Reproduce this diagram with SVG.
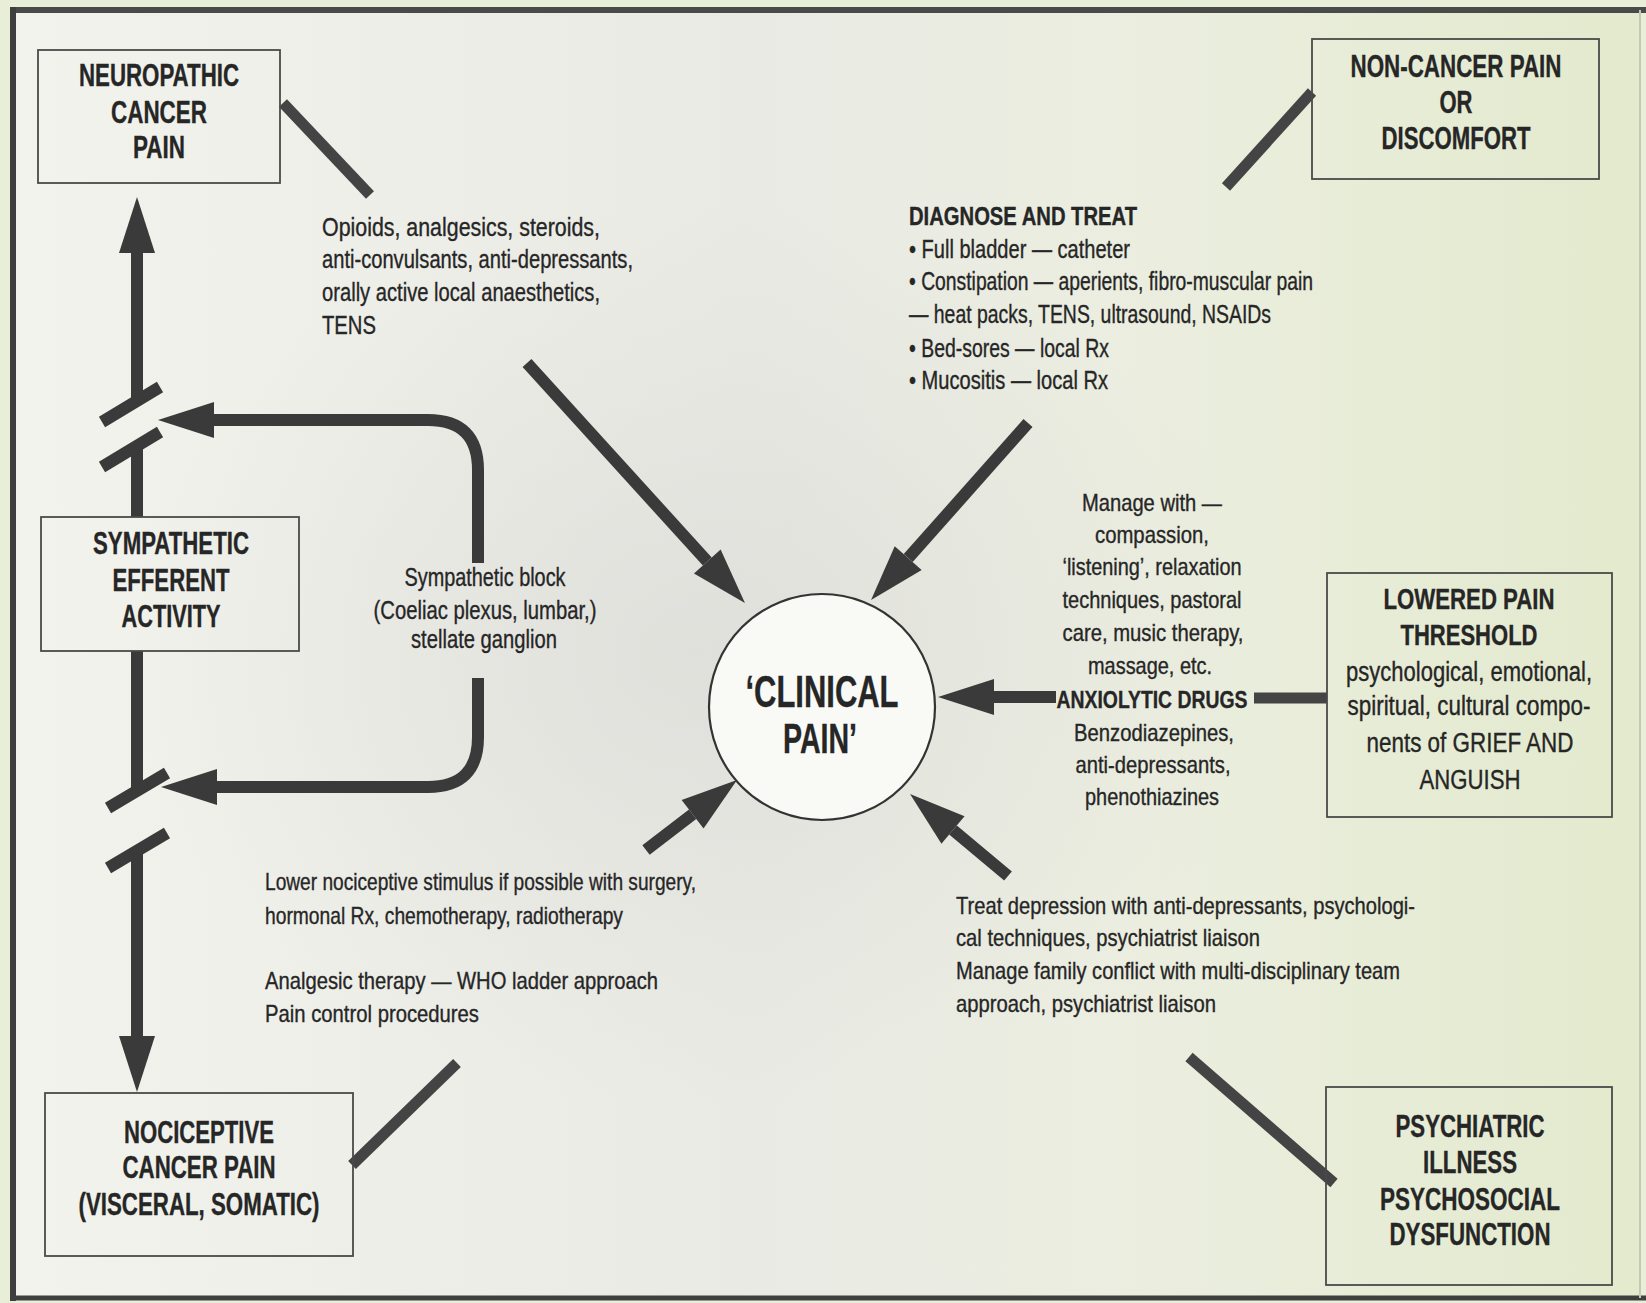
<svg xmlns="http://www.w3.org/2000/svg" width="1646" height="1303" viewBox="0 0 1646 1303">
<defs>
<linearGradient id="bg" x1="0" y1="0" x2="1" y2="0">
<stop offset="0" stop-color="#f2f3ec"/>
<stop offset="0.45" stop-color="#eaeae5"/>
<stop offset="0.7" stop-color="#ebeedf"/>
<stop offset="1" stop-color="#e3eacd"/>
</linearGradient>
<radialGradient id="mid" cx="0.42" cy="0.5" r="0.35">
<stop offset="0" stop-color="#d8d8d4" stop-opacity="0.6"/>
<stop offset="1" stop-color="#dcdcd8" stop-opacity="0"/>
</radialGradient>
<marker id="ah" markerUnits="userSpaceOnUse" markerWidth="58" markerHeight="38" refX="0" refY="18" orient="auto" overflow="visible">
<path d="M0,0 L56,18 L0,36 Z" fill="#3a3a3a"/>
</marker>
</defs>
<style>
.box{fill:none;stroke:#4a4a4a;stroke-width:1.8}
.t{font-family:"Liberation Sans",Arial,sans-serif;fill:#262626;stroke:#262626;stroke-width:0.35px}
.b{font-weight:bold}
.title{font-size:31px;font-weight:bold;text-anchor:middle}
.c{text-anchor:middle}
.body{font-size:25px}
.con{stroke:#3a3a3a;stroke-width:12;fill:none;stroke-linecap:butt}
.stub{stroke:#444;stroke-width:11;fill:none;stroke-linecap:butt}
</style>
<rect x="0" y="0" width="1646" height="1303" fill="#e8eed8"/>
<rect x="13" y="10" width="1627" height="1288" fill="url(#bg)"/>
<rect x="13" y="10" width="1627" height="1288" fill="url(#mid)"/>
<g id="frame">
<line x1="10" y1="10" x2="1646" y2="10" stroke="#4a4a4a" stroke-width="6"/>
<line x1="10" y1="1298" x2="1646" y2="1298" stroke="#3f3f3f" stroke-width="5"/>
<line x1="13" y1="7" x2="13" y2="1301" stroke="#3f3f3f" stroke-width="6"/>
<line x1="1640" y1="10" x2="1640" y2="1298" stroke="#c4c9b2" stroke-width="2"/>
</g>

<g id="connectors">
<line class="con" x1="137" y1="401" x2="137" y2="253" marker-end="url(#ah)"/>
<line class="con" x1="137" y1="446" x2="137" y2="517"/>
<line class="con" x1="137" y1="651" x2="137" y2="790"/>
<line class="con" x1="137" y1="850" x2="137" y2="1036" marker-end="url(#ah)"/>
<line class="con" x1="102" y1="422" x2="160" y2="387"/>
<line class="con" x1="102" y1="467" x2="160" y2="432"/>
<line class="con" x1="108" y1="808" x2="167" y2="773"/>
<line class="con" x1="108" y1="868" x2="167" y2="833"/>
<path class="con" d="M478,563 L478,470 Q478,420 428,420 L214,420" marker-end="url(#ah)"/>
<path class="con" d="M478,678 L478,737 Q478,787 428,787 L217,787" marker-end="url(#ah)"/>
<line class="con" x1="527" y1="363" x2="707.3" y2="561.5" marker-end="url(#ah)"/>
<line class="con" x1="1028" y1="423" x2="908.2" y2="558.1" marker-end="url(#ah)"/>
<line class="con" x1="1056" y1="697" x2="994" y2="697" marker-end="url(#ah)"/>
<line class="con" x1="646" y1="850" x2="692.6" y2="814.2" marker-end="url(#ah)"/>
<line class="con" x1="1008" y1="876" x2="953" y2="830" marker-end="url(#ah)"/>
<line class="stub" x1="283" y1="103" x2="370" y2="195"/>
<line class="stub" x1="1312" y1="92" x2="1226" y2="187"/>
<line class="stub" x1="1254" y1="698" x2="1327" y2="698" stroke="#666"/>
<line class="stub" x1="352" y1="1165" x2="457" y2="1063"/>
<line class="stub" x1="1189" y1="1057" x2="1334" y2="1183"/>
</g>

<g id="node-neuropathic">
<rect class="box" x="38" y="50" width="242" height="133"/>
<text class="t title" x="159" y="86" textLength="160" lengthAdjust="spacingAndGlyphs">NEUROPATHIC</text>
<text class="t title" x="159" y="123" textLength="96" lengthAdjust="spacingAndGlyphs">CANCER</text>
<text class="t title" x="159" y="158" textLength="52" lengthAdjust="spacingAndGlyphs">PAIN</text>
</g>

<g id="node-noncancer">
<rect class="box" x="1312" y="39" width="287" height="140"/>
<text class="t title" x="1456" y="77" textLength="211" lengthAdjust="spacingAndGlyphs">NON-CANCER PAIN</text>
<text class="t title" x="1456" y="113" textLength="33" lengthAdjust="spacingAndGlyphs">OR</text>
<text class="t title" x="1456" y="149" textLength="149" lengthAdjust="spacingAndGlyphs">DISCOMFORT</text>
</g>

<g id="node-sympathetic">
<rect class="box" x="41" y="517" width="258" height="134"/>
<text class="t title" x="171" y="554" textLength="156" lengthAdjust="spacingAndGlyphs">SYMPATHETIC</text>
<text class="t title" x="171" y="591" textLength="117" lengthAdjust="spacingAndGlyphs">EFFERENT</text>
<text class="t title" x="171" y="627" textLength="99" lengthAdjust="spacingAndGlyphs">ACTIVITY</text>
</g>

<g id="node-lowered">
<rect class="box" x="1327" y="573" width="285" height="244"/>
<text class="t b c" style="font-size:29px" x="1469" y="609" textLength="171" lengthAdjust="spacingAndGlyphs">LOWERED PAIN</text>
<text class="t b c" style="font-size:29px" x="1469" y="645" textLength="137" lengthAdjust="spacingAndGlyphs">THRESHOLD</text>
<text class="t c" style="font-size:27px" x="1469" y="681" textLength="246" lengthAdjust="spacingAndGlyphs">psychological, emotional,</text>
<text class="t c" style="font-size:27px" x="1469" y="715" textLength="243" lengthAdjust="spacingAndGlyphs">spiritual, cultural compo-</text>
<text class="t c" style="font-size:27px" x="1470" y="752" textLength="207" lengthAdjust="spacingAndGlyphs">nents of GRIEF AND</text>
<text class="t c" style="font-size:27px" x="1470" y="789" textLength="101" lengthAdjust="spacingAndGlyphs">ANGUISH</text>
</g>

<g id="node-nociceptive">
<rect class="box" x="45" y="1093" width="308" height="163"/>
<text class="t title" x="199" y="1143" textLength="150" lengthAdjust="spacingAndGlyphs">NOCICEPTIVE</text>
<text class="t title" x="199" y="1178" textLength="153" lengthAdjust="spacingAndGlyphs">CANCER PAIN</text>
<text class="t title" x="199" y="1215" textLength="241" lengthAdjust="spacingAndGlyphs">(VISCERAL, SOMATIC)</text>
</g>

<g id="node-psychiatric">
<rect class="box" x="1326" y="1087" width="286" height="198"/>
<text class="t title" x="1470" y="1137" textLength="149" lengthAdjust="spacingAndGlyphs">PSYCHIATRIC</text>
<text class="t title" x="1470" y="1173" textLength="94" lengthAdjust="spacingAndGlyphs">ILLNESS</text>
<text class="t title" x="1470" y="1210" textLength="180" lengthAdjust="spacingAndGlyphs">PSYCHOSOCIAL</text>
<text class="t title" x="1470" y="1245" textLength="161" lengthAdjust="spacingAndGlyphs">DYSFUNCTION</text>
</g>

<g id="node-clinical">
<circle cx="822" cy="707" r="113" fill="#f9f9f6" stroke="#333" stroke-width="2.2"/>
<text class="t b c" style="font-size:44px" x="822" y="707" textLength="153" lengthAdjust="spacingAndGlyphs">‘CLINICAL</text>
<text class="t b c" style="font-size:42px" x="820" y="753" textLength="74" lengthAdjust="spacingAndGlyphs">PAIN’</text>
</g>

<g id="label-opioids" class="t" style="font-size:26px">
<text x="322" y="236" textLength="278" lengthAdjust="spacingAndGlyphs">Opioids, analgesics, steroids,</text>
<text x="322" y="268" textLength="311" lengthAdjust="spacingAndGlyphs">anti-convulsants, anti-depressants,</text>
<text x="322" y="301" textLength="278" lengthAdjust="spacingAndGlyphs">orally active local anaesthetics,</text>
<text x="322" y="334" textLength="54" lengthAdjust="spacingAndGlyphs">TENS</text>
</g>

<g id="label-diagnose" class="t body">
<text class="b" x="909" y="225" textLength="228" lengthAdjust="spacingAndGlyphs">DIAGNOSE AND TREAT</text>
<text x="909" y="258" textLength="221" lengthAdjust="spacingAndGlyphs">• Full bladder — catheter</text>
<text x="909" y="290" textLength="404" lengthAdjust="spacingAndGlyphs">• Constipation — aperients, fibro-muscular pain</text>
<text x="909" y="323" textLength="362" lengthAdjust="spacingAndGlyphs">— heat packs, TENS, ultrasound, NSAIDs</text>
<text x="909" y="357" textLength="200" lengthAdjust="spacingAndGlyphs">• Bed-sores — local Rx</text>
<text x="909" y="389" textLength="199" lengthAdjust="spacingAndGlyphs">• Mucositis — local Rx</text>
</g>

<g id="label-sympathetic-block" class="t body c">
<text x="485" y="586" textLength="161" lengthAdjust="spacingAndGlyphs">Sympathetic block</text>
<text x="485" y="619" textLength="223" lengthAdjust="spacingAndGlyphs">(Coeliac plexus, lumbar,)</text>
<text x="484" y="648" textLength="146" lengthAdjust="spacingAndGlyphs">stellate ganglion</text>
</g>

<g id="label-manage" class="t c" style="font-size:24px">
<text x="1152" y="511" textLength="140" lengthAdjust="spacingAndGlyphs">Manage with —</text>
<text x="1152" y="543" textLength="114" lengthAdjust="spacingAndGlyphs">compassion,</text>
<text x="1152" y="575" textLength="179" lengthAdjust="spacingAndGlyphs">‘listening’, relaxation</text>
<text x="1152" y="608" textLength="179" lengthAdjust="spacingAndGlyphs">techniques, pastoral</text>
<text x="1153" y="641" textLength="181" lengthAdjust="spacingAndGlyphs">care, music therapy,</text>
<text x="1150" y="674" textLength="124" lengthAdjust="spacingAndGlyphs">massage, etc.</text>
<text class="b" x="1152" y="708" textLength="191" lengthAdjust="spacingAndGlyphs">ANXIOLYTIC DRUGS</text>
<text x="1154" y="741" textLength="160" lengthAdjust="spacingAndGlyphs">Benzodiazepines,</text>
<text x="1153" y="773" textLength="155" lengthAdjust="spacingAndGlyphs">anti-depressants,</text>
<text x="1152" y="805" textLength="134" lengthAdjust="spacingAndGlyphs">phenothiazines</text>
</g>

<g id="label-lower" class="t" style="font-size:24px">
<text x="265" y="890" textLength="431" lengthAdjust="spacingAndGlyphs">Lower nociceptive stimulus if possible with surgery,</text>
<text x="265" y="924" textLength="358" lengthAdjust="spacingAndGlyphs">hormonal Rx, chemotherapy, radiotherapy</text>
<text x="265" y="989" textLength="393" lengthAdjust="spacingAndGlyphs">Analgesic therapy — WHO ladder approach</text>
<text x="265" y="1022" textLength="214" lengthAdjust="spacingAndGlyphs">Pain control procedures</text>
</g>

<g id="label-treat" class="t" style="font-size:24px">
<text x="956" y="914" textLength="459" lengthAdjust="spacingAndGlyphs">Treat depression with anti-depressants, psychologi-</text>
<text x="956" y="946" textLength="304" lengthAdjust="spacingAndGlyphs">cal techniques, psychiatrist liaison</text>
<text x="956" y="979" textLength="444" lengthAdjust="spacingAndGlyphs">Manage family conflict with multi-disciplinary team</text>
<text x="956" y="1012" textLength="260" lengthAdjust="spacingAndGlyphs">approach, psychiatrist liaison</text>
</g>
</svg>
